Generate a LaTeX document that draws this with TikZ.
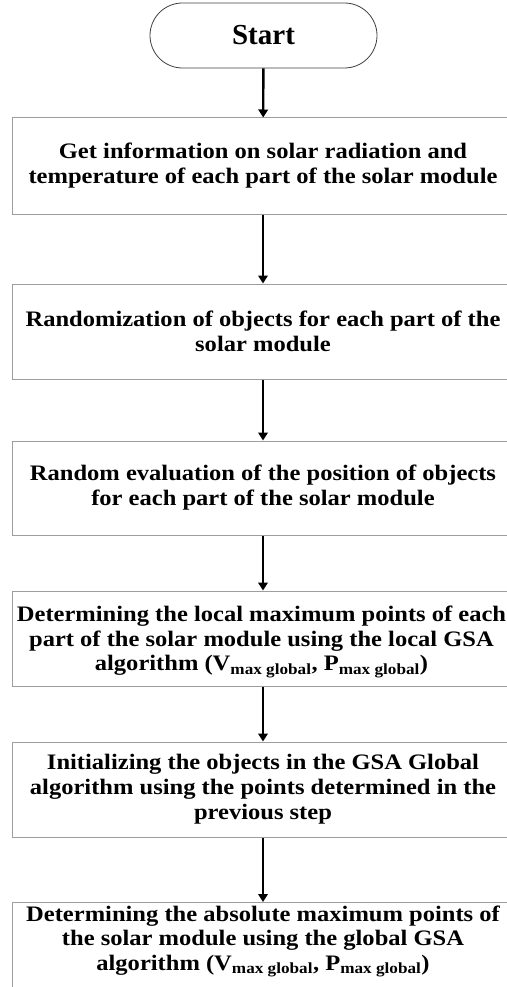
\documentclass[tikz,border=0pt]{standalone}
\usepackage{fontspec}
\setmainfont{Liberation Serif}
% slightly widened serif face for the step texts
\newfontfamily\stepfont[FakeStretch=1.11]{Liberation Serif}
\usetikzlibrary{arrows.meta,shapes.misc}
\begin{document}
\begin{tikzpicture}[x=1pt,y=-1pt,
  stepbox/.style={draw=black!38,line width=1pt,rectangle,minimum width=502pt,
    minimum height=95pt,inner sep=0pt,align=center,
    font=\stepfont\fontsize{22.1}{25}\selectfont\bfseries},
  steptext/.style={inner sep=0pt,align=center,
    font=\stepfont\fontsize{22.1}{24.5}\selectfont\bfseries},
  terminal/.style={draw=black!75,line width=0.8pt,rounded rectangle,
    minimum width=227pt,minimum height=65pt,inner sep=0pt,
    font=\fontsize{29}{32}\selectfont\bfseries},
  flow/.style={line width=2.4pt,-{Triangle[width=9.5pt,length=8pt]}}]
\useasboundingbox (0,0) rectangle (506,987);
\node[terminal] (start) at (263.5,35.5) {Start};
\node[stepbox,minimum height=96pt] (s1) at (263,166)
  {Get information on solar radiation and\\
   temperature of each part of the solar module};
\node[stepbox] (s2) at (263,331.5)
  {Randomization of objects for each part of the\\ solar module};
\node[stepbox,minimum height=94pt] (s3) at (263,488)
  {Random evaluation of the position of objects\\ for each part of the solar module};
% fourth step: its widest line is set a little left of the box centre
\node[stepbox] (s4) at (263,638.5) {};
\node[steptext,text depth=0pt] (s4text) at (261.5,638.5)
  {\fontsize{22.1}{25}\selectfont Determining the local maximum points of each\\
   part of the solar module using the local GSA\\
   algorithm (V\textsubscript{max global}, P\textsubscript{max global})};
\node[stepbox] (s5) at (263,789.5)
  {Initializing the objects in the GSA Global\\
   algorithm using the points determined in the\\ previous step};
% last step: box runs past the lower edge, text sits near its top
\node[stepbox,anchor=north,minimum height=120pt] (s6) at (263,902) {};
\node[steptext,anchor=north] (s6text) at (263,905.5)
  {Determining the absolute maximum points of\\
   the solar module using the global GSA\\
   algorithm (V\textsubscript{max global}, P\textsubscript{max global})};
\draw[flow] (start) -- (s1);
\draw[flow] (s1) -- (s2);
\draw[flow] (s2) -- (s3);
\draw[flow] (s3) -- (s4);
\draw[flow] (s4) -- (s5);
\draw[flow] (s5) -- (s6);
\end{tikzpicture}
\end{document}
